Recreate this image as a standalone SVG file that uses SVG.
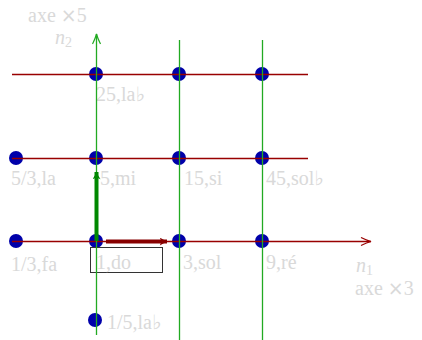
<svg xmlns="http://www.w3.org/2000/svg" width="422" height="340" viewBox="0 0 422 340">
  <defs>
    <style>
      .dot { fill: #0000aa; }
      .lbl { font-family: "Liberation Serif", "DejaVu Serif", serif; font-size: 20px; fill: #d9d9d9; }
      .it { font-style: italic; }
      .op { font-family: "DejaVu Sans", sans-serif; font-size: 19px; }
      .h { stroke: #990000; stroke-width: 1.3; fill: none; }
      .v { stroke: #22aa22; stroke-width: 1.3; fill: none; }
      .gen-g { stroke: #008800; stroke-width: 4; fill: none; }
      .gen-r { stroke: #880000; stroke-width: 4; fill: none; }
      .box { fill: none; stroke: #333333; stroke-width: 1; }
    </style>
    <marker id="openR" viewBox="0 0 10 10" refX="10" refY="5" markerWidth="16" markerHeight="10" markerUnits="userSpaceOnUse" orient="auto">
      <path d="M0,1 Q6,4 10,5 Q6,6 0,9" fill="none" stroke="#990000" stroke-width="1.2"/>
    </marker>
    <marker id="openG" viewBox="0 0 10 10" refX="10" refY="5" markerWidth="14" markerHeight="10" markerUnits="userSpaceOnUse" orient="auto">
      <path d="M0,1 Q6,4 10,5 Q6,6 0,9" fill="none" stroke="#22aa22" stroke-width="1.2"/>
    </marker>
    <marker id="thickG" viewBox="0 0 10 10" refX="9" refY="5" markerWidth="14" markerHeight="8" markerUnits="userSpaceOnUse" orient="auto">
      <path d="M0,0 Q6,4 10,5 Q6,6 0,10 L2,5 Z" fill="#008800"/>
    </marker>
    <marker id="thickR" viewBox="0 0 10 10" refX="9" refY="5" markerWidth="16" markerHeight="8" markerUnits="userSpaceOnUse" orient="auto">
      <path d="M0,0 Q6,4 10,5 Q6,6 0,10 L2,5 Z" fill="#880000"/>
    </marker>
  </defs>
  <rect width="422" height="340" fill="#ffffff"/>

  <!-- lattice points: ratio and note name -->
  <g id="n-25"><circle class="dot" cx="96" cy="74" r="7"/><text class="lbl" x="96" y="101">25,la♭</text></g>
  <g id="n-75"><circle class="dot" cx="179" cy="74" r="7"/></g>
  <g id="n-225"><circle class="dot" cx="262" cy="74" r="7"/></g>
  <g id="n-5-3"><circle class="dot" cx="16" cy="158" r="7"/><text class="lbl" x="11" y="185">5/3,la</text></g>
  <g id="n-5"><circle class="dot" cx="96" cy="158" r="7"/><text class="lbl" x="100" y="185">5,mi</text></g>
  <g id="n-15"><circle class="dot" cx="179" cy="158" r="7"/><text class="lbl" x="184" y="185">15,si</text></g>
  <g id="n-45"><circle class="dot" cx="262" cy="158" r="7"/><text class="lbl" x="266" y="185">45,sol♭</text></g>
  <g id="n-1-3"><circle class="dot" cx="16" cy="241" r="7"/><text class="lbl" x="11" y="271">1/3,fa</text></g>
  <g id="n-1"><circle class="dot" cx="96" cy="241" r="7"/><rect class="box" x="90.5" y="247.5" width="72" height="25"/><text class="lbl" x="96" y="269">1,do</text></g>
  <g id="n-3"><circle class="dot" cx="179" cy="241" r="7"/><text class="lbl" x="183" y="269">3,sol</text></g>
  <g id="n-9"><circle class="dot" cx="262" cy="241" r="7"/><text class="lbl" x="266" y="269">9,ré</text></g>
  <g id="n-1-5"><circle class="dot" cx="95" cy="320" r="7"/><text class="lbl" x="107" y="329">1/5,la♭</text></g>

  <!-- axes and grid lines, generator arrows -->
  <g id="connectors">
    <line class="h" x1="12" y1="74.5" x2="308" y2="74.5"/>
    <line class="h" x1="12" y1="158.5" x2="308" y2="158.5"/>
    <line class="h" x1="12" y1="241.5" x2="371" y2="241.5" marker-end="url(#openR)"/>
    <line class="v" x1="96.5" y1="335" x2="96.5" y2="34" marker-end="url(#openG)"/>
    <line class="v" x1="179.5" y1="40" x2="179.5" y2="340"/>
    <line class="v" x1="262.5" y1="40" x2="262.5" y2="340"/>
    <line class="gen-g" x1="96.5" y1="241" x2="96.5" y2="172" marker-end="url(#thickG)"/>
    <line class="gen-r" x1="106" y1="241.5" x2="167" y2="241.5" marker-end="url(#thickR)"/>
  </g>

  <!-- axis captions -->
  <g id="axis-labels">
    <text class="lbl" x="28" y="22">axe <tspan class="op">×</tspan>5</text>
    <text class="lbl" x="55" y="44"><tspan class="it">n</tspan><tspan font-size="14" dy="3">2</tspan></text>
    <text class="lbl" x="356" y="272"><tspan class="it">n</tspan><tspan font-size="14" dy="3">1</tspan></text>
    <text class="lbl" x="355" y="295">axe <tspan class="op">×</tspan>3</text>
  </g>
</svg>
